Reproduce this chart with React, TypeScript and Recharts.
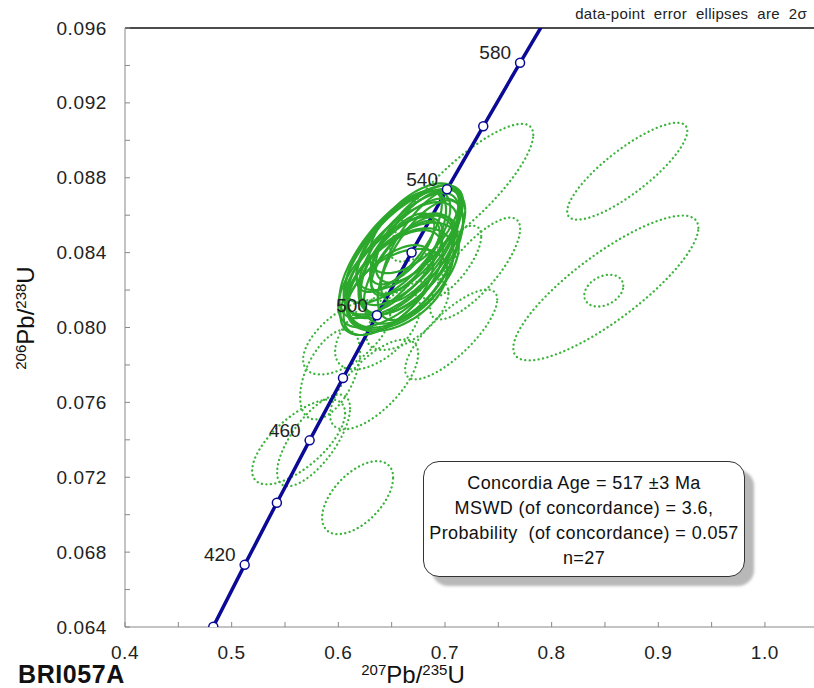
import React from 'react';
import { ScatterChart, Scatter, XAxis, YAxis, ReferenceLine } from 'recharts';

// concordia tick marks (Ma) with their 207Pb/235U and 206Pb/238U ratios
const concordiaAges = [400, 420, 440, 460, 480, 500, 520, 540, 560, 580, 600];
const concordiaX = [0.4828, 0.5122, 0.5424, 0.5731, 0.6044, 0.6362, 0.6687, 0.7019, 0.7359, 0.7704, 0.8057];
const concordiaY = [0.06402, 0.06732, 0.07064, 0.07397, 0.0773, 0.08065, 0.08401, 0.08738, 0.09075, 0.09414, 0.09754];
const labelledAges = [420, 460, 500, 540, 580];

const xTicks = [0.4, 0.45, 0.5, 0.55, 0.6, 0.65, 0.7, 0.75, 0.8, 0.85, 0.9, 0.95, 1.0];
const yTicks = [0.064, 0.066, 0.068, 0.07, 0.072, 0.074, 0.076, 0.078, 0.08, 0.082, 0.084, 0.086, 0.088, 0.09, 0.092, 0.094, 0.096];

// [x, y, 2σ x, 2σ y, rho]
const solidEllipses = [
  [0.66, 0.0836, 0.052, 0.0031, 0.65],
  [0.666, 0.0842, 0.047, 0.003, 0.68],
  [0.654, 0.083, 0.054, 0.003, 0.62],
  [0.672, 0.0846, 0.042, 0.0028, 0.7],
  [0.65, 0.0824, 0.048, 0.0028, 0.62],
  [0.662, 0.084, 0.057, 0.0034, 0.66],
  [0.664, 0.0834, 0.045, 0.0027, 0.58],
  [0.656, 0.0843, 0.049, 0.003, 0.7],
  [0.669, 0.0838, 0.048, 0.0031, 0.62],
  [0.652, 0.0833, 0.046, 0.0026, 0.66],
  [0.675, 0.085, 0.04, 0.0026, 0.66],
  [0.661, 0.0828, 0.052, 0.0028, 0.55],
  [0.667, 0.0848, 0.05, 0.0028, 0.68],
  [0.647, 0.082, 0.042, 0.0024, 0.6],
  [0.658, 0.0826, 0.05, 0.0027, 0.5],
  [0.678, 0.0844, 0.038, 0.003, 0.72],
  [0.663, 0.0837, 0.032, 0.002, 0.7],
  [0.66, 0.0842, 0.03, 0.0019, 0.66],
  [0.651, 0.0839, 0.05, 0.0034, 0.7],
  [0.671, 0.0853, 0.042, 0.0024, 0.6],
  [0.655, 0.082, 0.047, 0.0022, 0.45],
  [0.677, 0.0836, 0.04, 0.0032, 0.66],
  [0.668, 0.0831, 0.044, 0.0029, 0.6],
  [0.657, 0.0846, 0.04, 0.0027, 0.72],
];

const dottedEllipses = [
  [0.8709, 0.08835, 0.0563, 0.00259, 0.83],
  [0.8508, 0.08211, 0.0868, 0.00387, 0.83],
  [0.8489, 0.08197, 0.0183, 0.00085, 0.3],
  [0.7157, 0.0872, 0.0671, 0.00368, 0.84],
  [0.7283, 0.08315, 0.0422, 0.00272, 0.78],
  [0.7058, 0.07963, 0.0432, 0.0024, 0.78],
  [0.7054, 0.08347, 0.0286, 0.00197, 0.72],
  [0.6181, 0.07091, 0.0333, 0.00195, 0.55],
  [0.5628, 0.07389, 0.0436, 0.00227, 0.68],
  [0.5768, 0.07397, 0.0342, 0.00245, 0.7],
  [0.6078, 0.07949, 0.0408, 0.002, 0.6],
  [0.6336, 0.07696, 0.0413, 0.0024, 0.68],
  [0.5923, 0.07749, 0.0281, 0.0024, 0.5],
  [0.6369, 0.07989, 0.0399, 0.00213, 0.55],
  [0.6648, 0.0807, 0.0385, 0.0019, 0.6],
];

const concordiaData = concordiaAges.map((age, i) => ({
  age,
  x: concordiaX[i],
  y: concordiaY[i],
  label: labelledAges.includes(age) ? String(age) : '',
}));

// outline of an error ellipse from its centre, 2σ half-widths and correlation
const ellipseOutline = (e: number[]) => {
  const [cx, cy, ax, ay, rho] = e;
  const s = Math.sqrt(1 - rho * rho);
  const pts = [];
  for (let i = 0; i <= 90; i++) {
    const t = (2 * Math.PI * i) / 90;
    pts.push({ x: cx + ax * Math.cos(t), y: cy + ay * (rho * Math.cos(t) + s * Math.sin(t)) });
  }
  return pts;
};

const FONT = '"Liberation Sans", Arial, sans-serif';
const BLUE = '#0a0a96';

const YTick = (props: any) => {
  const { x, y, payload, index } = props;
  const major = index % 2 === 0;
  return (
    <g>
      <line x1={x} y1={y} x2={x + 5} y2={y} stroke="#888" />
      {major && (
        <text x={x - 18} y={y} textAnchor="end" dominantBaseline="central" fontSize={19} letterSpacing={0.6} fill="#222" fontFamily={FONT}>
          {payload.value.toFixed(3)}
        </text>
      )}
    </g>
  );
};

const XTick = (props: any) => {
  const { x, y, payload, index } = props;
  const major = index % 2 === 0;
  return (
    <g>
      <line x1={x} y1={y} x2={x} y2={y - 5} stroke="#888" />
      {major && (
        <text x={x} y={y + 25} textAnchor="middle" dominantBaseline="central" fontSize={19} letterSpacing={0.6} fill="#222" fontFamily={FONT}>
          {payload.value.toFixed(1)}
        </text>
      )}
    </g>
  );
};

const Marker = (props: any) => {
  const { cx, cy, payload } = props;
  return (
    <g>
      <circle cx={cx} cy={cy} r={4.5} fill="#fff" stroke={BLUE} strokeWidth={1.5} />
      {payload.label && (
        <text x={cx - 9} y={cy - 10} textAnchor="end" dominantBaseline="central" fontSize={19} fill="#222" fontFamily={FONT}>
          {payload.label}
        </text>
      )}
    </g>
  );
};

const NoShape = () => <g />;

const supStyle: React.CSSProperties = { fontSize: 15, position: 'relative', top: '-0.55em' };

export default function App() {
  return (
    <div style={{ position: 'absolute', left: 0, top: 0, width: 814, height: 688, background: '#fff', fontFamily: FONT }}>
      <ScatterChart width={814} height={688} margin={{ top: 28, right: 0, bottom: 0, left: 0 }}>
        <XAxis
          type="number"
          dataKey="x"
          domain={[0.4, 1.046]}
          allowDataOverflow
          ticks={xTicks}
          interval={0}
          height={61}
          tickLine={false}
          tickSize={0}
          tickMargin={0}
          axisLine={{ stroke: '#888' }}
          tick={<XTick />}
        />
        <YAxis
          type="number"
          dataKey="y"
          domain={[0.064, 0.096]}
          allowDataOverflow
          ticks={yTicks}
          interval={0}
          width={125}
          tickLine={false}
          tickSize={0}
          tickMargin={0}
          axisLine={{ stroke: '#888' }}
          tick={<YTick />}
        />
        <ReferenceLine y={0.096} stroke="#111" strokeWidth={1.6} />
        {dottedEllipses.map((e, i) => (
          <Scatter
            key={`d${i}`}
            data={ellipseOutline(e)}
            shape={NoShape}
            line={{ stroke: '#3cb43c', strokeWidth: 2.3, strokeDasharray: '0.1 4.4', strokeLinecap: 'round' }}
            isAnimationActive={false}
          />
        ))}
        <Scatter data={concordiaData} shape={NoShape} line={{ stroke: BLUE, strokeWidth: 3.5 }} isAnimationActive={false} />
        {solidEllipses.map((e, i) => (
          <Scatter
            key={`s${i}`}
            data={ellipseOutline(e)}
            shape={NoShape}
            line={{ stroke: '#2ca82c', strokeWidth: 2.2 }}
            isAnimationActive={false}
          />
        ))}
        <Scatter data={concordiaData} shape={Marker} isAnimationActive={false} />
      </ScatterChart>

      <div style={{ position: 'absolute', left: 0, top: 5, width: 807, textAlign: 'right', fontSize: 15, letterSpacing: 0.3, lineHeight: '18px', color: '#222' }}>
        data-point&nbsp; error&nbsp; ellipses&nbsp; are&nbsp; 2σ
      </div>

      <div
        style={{
          position: 'absolute',
          left: 27,
          top: 318,
          transform: 'translate(-50%, -50%) rotate(-90deg)',
          whiteSpace: 'nowrap',
          fontSize: 24,
          lineHeight: '24px',
          color: '#111',
        }}
      >
        <span style={supStyle}>206</span>Pb/<span style={supStyle}>238</span>U
      </div>

      <div
        style={{
          position: 'absolute',
          left: 413,
          top: 676,
          transform: 'translate(-50%, -50%)',
          whiteSpace: 'nowrap',
          fontSize: 24,
          lineHeight: '24px',
          color: '#111',
        }}
      >
        <span style={supStyle}>207</span>Pb/<span style={supStyle}>235</span>U
      </div>

      <div style={{ position: 'absolute', left: 18, top: 662, fontSize: 25, lineHeight: '25px', fontWeight: 'bold', letterSpacing: 0.6, color: '#111' }}>
        BRI057A
      </div>

      <div
        style={{
          position: 'absolute',
          left: 423,
          top: 461,
          width: 322,
          height: 116,
          border: '1.5px solid #333',
          borderRadius: 16,
          background: '#fff',
          boxShadow: '9px 9px 3px #b8b8b8',
          textAlign: 'center',
          fontSize: 18,
          letterSpacing: 0.4,
          lineHeight: '25px',
          color: '#111',
          paddingTop: 9,
          boxSizing: 'border-box',
        }}
      >
        <div>Concordia Age = 517 ±3 Ma</div>
        <div>MSWD (of concordance) = 3.6,</div>
        <div>Probability&nbsp; (of concordance) = 0.057</div>
        <div>n=27</div>
      </div>
    </div>
  );
}
